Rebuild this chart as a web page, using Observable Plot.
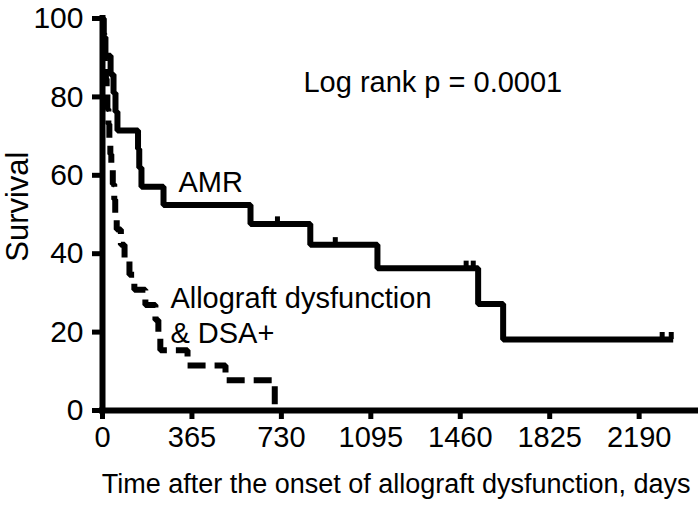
<!DOCTYPE html>
<html><head><meta charset="utf-8">
<script src="https://cdn.jsdelivr.net/npm/d3@7"></script>
<script src="https://cdn.jsdelivr.net/npm/@observablehq/plot@0.6"></script>
<style>body{margin:0;background:#fff}</style>
</head><body><div id="chart"></div>
<script>
// AMR group (solid)
const amrDays = [0, 5, 12, 33, 45, 53, 61, 145, 150, 159, 249, 604, 848, 1122, 1533, 1635, 2329];
const amrSurv = [100, 95.2, 90.5, 85.7, 81.0, 76.2, 71.4, 66.7, 61.9, 57.1, 52.4, 47.6, 42.3, 36.3, 27.2, 18.1, 18.1];
const amrCensorDays = [714, 950, 1484, 1513, 2284, 2321];
const amrCensorSurv = [47.6, 42.3, 36.3, 36.3, 18.1, 18.1];
// Allograft dysfunction & DSA+ group (dashed)
const dsaDays = [0, 3, 7, 10, 14, 17, 20, 24, 28, 32, 36, 42, 48, 52, 58, 75, 90, 110, 130, 175, 216, 228, 236, 347, 502, 703];
const dsaSurv = [100, 96.2, 92.3, 88.5, 84.6, 80.8, 76.9, 73.1, 69.2, 65.4, 61.5, 57.7, 53.8, 50, 46.2, 42.3, 38.5, 34.6, 30.8, 26.9, 23.1, 19.2, 15.4, 11.5, 7.7, 0];
// ticks and labels
const xTicks = [0, 365, 730, 1095, 1460, 1825, 2190];
const yTicks = [0, 20, 40, 60, 80, 100];
const xLabel = "Time after the onset of allograft dysfunction, days";
const yLabel = "Survival";
const annoText = ["Log rank p = 0.0001", "AMR", "Allograft dysfunction\n& DSA+"];
const annoDay = [820, 310, 277];
const annoSurv = [84.1, 58.6, 24.5];

const amr = amrDays.map((d, i) => ({day: d, surv: amrSurv[i]}));
const dsa = dsaDays.map((d, i) => ({day: d, surv: dsaSurv[i]}));
const censor = amrCensorDays.map((d, i) => ({day: d, surv: amrCensorSurv[i]}));
const anno = annoText.map((t, i) => ({text: t, day: annoDay[i], surv: annoSurv[i]}));

const font = "'Liberation Sans', Arial, Helvetica, sans-serif";
const plot = Plot.plot({
  width: 699, height: 510,
  marginLeft: 102, marginRight: 4, marginTop: 18, marginBottom: 100,
  style: {fontFamily: font, fontSize: "28px", background: "#fff", color: "#000"},
  x: {domain: [0, 2420], ticks: xTicks, tickSize: 9, tickPadding: 7, label: null, tickFormat: d => String(d)},
  y: {domain: [0, 100], ticks: yTicks, tickSize: 10, tickPadding: 9, label: null, tickFormat: d => String(d)},
  marks: [
    Plot.ruleX([0], {y1: 0, y2: 100, strokeWidth: 6, strokeLinecap: "square"}),
    Plot.ruleY([0], {x1: 0, x2: 2420, strokeWidth: 6, strokeLinecap: "square"}),
    Plot.line(dsa, {x: "day", y: "surv", curve: "step-after", strokeWidth: 6, strokeLinejoin: "miter", strokeLinecap: "butt", strokeDasharray: "18,9"}),
    Plot.line(amr, {x: "day", y: "surv", curve: "step-after", strokeWidth: 6, strokeLinejoin: "miter", strokeLinecap: "butt"}),
    Plot.ruleX(censor, {x: "day", y1: "surv", y2: d => d.surv + 1.8, strokeWidth: 5}),
    Plot.text(anno, {x: "day", y: "surv", text: "text", textAnchor: "start", fontSize: 29, lineHeight: 1.2, fill: "#000"}),
    Plot.text([xLabel], {frameAnchor: "bottom-right", dx: -5, dy: 82, textAnchor: "end", fontSize: 27, fill: "#000"}),
    Plot.text([yLabel], {x: 0, y: 52, dx: -84, rotate: -90, fontSize: 31, fill: "#000"})
  ]
});
const svg = d3.select(plot);
svg.selectAll('[aria-label^="y-axis"] text').attr("font-size", 30);
svg.selectAll('[aria-label^="x-axis"] text').attr("font-size", 29);
svg.selectAll('[aria-label^="x-axis"] path, [aria-label^="x-axis"] line, [aria-label^="y-axis"] path, [aria-label^="y-axis"] line').attr("stroke-width", 5);
document.getElementById("chart").appendChild(plot);
</script>
</body></html>
